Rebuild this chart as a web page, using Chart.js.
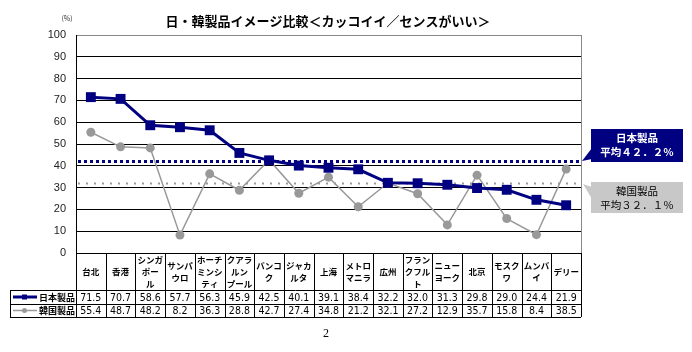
<!DOCTYPE html>
<html>
<head>
<meta charset="utf-8">
<script src="https://cdn.jsdelivr.net/npm/chart.js@4.4.1/dist/chart.umd.min.js"></script>
<style>
  html, body { margin: 0; padding: 0; background: #fff; }
  #wrap { width: 692px; height: 352px; }
</style>
</head>
<body>
<div id="wrap"><canvas id="imageChart" width="692" height="352"></canvas></div>
<script>
// Data
const categories = [
  ['台北'], ['香港'], ['シンガ', 'ポー', 'ル'], ['サンパ', 'ウロ'], ['ホーチ', 'ミンシ', 'ティ'],
  ['クアラ', 'ルン', 'プール'], ['バンコ', 'ク'], ['ジャカ', 'ルタ'], ['上海'], ['メトロ', 'マニラ'],
  ['広州'], ['フラン', 'クフル', 'ト'], ['ニュー', 'ヨーク'], ['北京'], ['モスク', 'ワ'], ['ムンバ', 'イ'], ['デリー']
];
const japanValues = [71.5, 70.7, 58.6, 57.7, 56.3, 45.9, 42.5, 40.1, 39.1, 38.4, 32.2, 32.0, 31.3, 29.8, 29.0, 24.4, 21.9];
const koreaValues = [55.4, 48.7, 48.2, 8.2, 36.3, 28.8, 42.7, 27.4, 34.8, 21.2, 32.1, 27.2, 12.9, 35.7, 15.8, 8.4, 38.5];
const seriesNames = ['日本製品', '韓国製品'];
const averages = [42.2, 32.1];
const averageLabels = [['日本製品', '平均４２．２％'], ['韓国製品', '平均３２．１％']];
const yTicks = [0, 10, 20, 30, 40, 50, 60, 70, 80, 90, 100];

const NAVY = '#000080';
const GRAY = '#999999';
const CJK = '"Noto Sans CJK JP", sans-serif';
const NUM = '"Liberation Sans Narrow", "DejaVu Sans Condensed", "Liberation Sans", sans-serif';

// dotted average lines, behind the series
const averagePlugin = {
  id: 'averages',
  beforeDatasetsDraw(chart) {
    const { ctx, chartArea: a, scales: { y } } = chart;
    const styles = [
      { color: NAVY, width: 3, dash: [3, 3] },
      { color: GRAY, width: 2, dash: [2, 6] }
    ];
    ctx.save();
    averages.forEach((v, i) => {
      const py = Math.round(y.getPixelForValue(v)) + 0.5;
      ctx.strokeStyle = styles[i].color;
      ctx.lineWidth = styles[i].width;
      ctx.setLineDash(styles[i].dash);
      ctx.beginPath();
      ctx.moveTo(a.left + 2, py);
      ctx.lineTo(a.right, py);
      ctx.stroke();
    });
    ctx.restore();
  }
};

// data table under the plot, callouts and extra texts
const tablePlugin = {
  id: 'dataTable',
  afterDraw(chart) {
    const { ctx, chartArea: a, scales: { x, y } } = chart;
    const n = chart.data.labels.length;
    const colW = (a.right - a.left) / n;
    const top = a.bottom;
    const row1 = 290, row2 = 304, bottom = 317;
    const legendLeft = 10;

    ctx.save();
    // right border of plot
    ctx.strokeStyle = '#888';
    ctx.lineWidth = 1;
    ctx.beginPath();
    ctx.moveTo(a.right + 0.5, a.top);
    ctx.lineTo(a.right + 0.5, a.bottom);
    ctx.stroke();

    // table grid
    ctx.strokeStyle = '#000';
    ctx.beginPath();
    [row1, row2, bottom].forEach(r => {
      ctx.moveTo(legendLeft, r + 0.5);
      ctx.lineTo(a.right, r + 0.5);
    });
    ctx.moveTo(legendLeft + 0.5, row1);
    ctx.lineTo(legendLeft + 0.5, bottom);
    for (let i = 0; i <= n; i++) {
      const px = Math.round(a.left + i * colW) + 0.5;
      ctx.moveTo(px, top);
      ctx.lineTo(px, bottom);
    }
    ctx.stroke();

    // category labels
    ctx.fillStyle = '#000';
    ctx.textAlign = 'center';
    ctx.textBaseline = 'middle';
    ctx.font = 'bold 8.5px ' + CJK;
    chart.data.labels.forEach((lines, i) => {
      const cx = x.getPixelForValue(i);
      const lh = 12;
      const y0 = (top + row1) / 2 - (lines.length - 1) * lh / 2;
      lines.forEach((t, k) => ctx.fillText(t, cx, y0 + k * lh));
    });

    // values
    ctx.font = '10.5px ' + NUM;
    chart.data.datasets.slice(0, 2).forEach((ds, d) => {
      const ry = d === 0 ? (row1 + row2) / 2 + 1 : (row2 + bottom) / 2 + 1;
      ds.data.forEach((v, i) => ctx.fillText(v.toFixed(1), x.getPixelForValue(i), ry));
    });

    // legend cells
    [[NAVY, 'rect', 3], [GRAY, 'circle', 1.5]].forEach(([c, shape, w], d) => {
      const ry = d === 0 ? (row1 + row2) / 2 : (row2 + bottom) / 2;
      ctx.strokeStyle = c;
      ctx.fillStyle = c;
      ctx.lineWidth = w;
      ctx.beginPath();
      ctx.moveTo(13, ry);
      ctx.lineTo(37, ry);
      ctx.stroke();
      if (shape === 'rect') ctx.fillRect(22, ry - 2.5, 5, 5);
      else { ctx.beginPath(); ctx.arc(24.5, ry, 2.5, 0, Math.PI * 2); ctx.fill(); }
      ctx.fillStyle = '#000';
      ctx.font = 'bold 9px ' + CJK;
      ctx.textAlign = 'left';
      ctx.fillText(seriesNames[d], 39, ry + 0.5);
    });

    // callouts
    const boxX = 591, boxW = 92;
    const calls = [
      { top: 129, h: 33, fill: NAVY, text: '#fff', bold: true },
      { top: 182, h: 31, fill: '#c8c8c8', text: '#000', bold: false }
    ];
    calls.forEach((c, i) => {
      const py = y.getPixelForValue(averages[i]);
      ctx.fillStyle = c.fill;
      ctx.fillRect(boxX, c.top, boxW, c.h);
      ctx.beginPath();
      if (i === 0) {
        ctx.moveTo(boxX + 1, c.top + c.h - 14);
        ctx.lineTo(boxX + 1, c.top + c.h - 3);
        ctx.lineTo(a.right + 1, py);
      } else {
        ctx.moveTo(boxX + 1, c.top + 5);
        ctx.lineTo(boxX + 1, c.top + 17);
        ctx.lineTo(a.right + 2, py + 1);
      }
      ctx.closePath();
      ctx.fill();
      ctx.fillStyle = c.text;
      ctx.textAlign = 'center';
      ctx.font = (c.bold ? 'bold ' : '') + '10.5px ' + CJK;
      averageLabels[i].forEach((t, k) => ctx.fillText(t, boxX + boxW / 2, c.top + 9 + k * 14));
    });

    // title, unit, page number
    ctx.fillStyle = '#000';
    ctx.textAlign = 'center';
    ctx.font = 'bold 13px ' + CJK;
    ctx.fillText('日・韓製品イメージ比較＜カッコイイ／センスがいい＞', 328, 21);
    ctx.font = '7px ' + CJK;
    ctx.fillStyle = '#333';
    ctx.fillText('(%)', 67, 18);
    ctx.font = '12px "Liberation Serif", serif';
    ctx.fillStyle = '#000';
    ctx.fillText('2', 326, 334);
    ctx.restore();
  }
};

new Chart(document.getElementById('imageChart'), {
  type: 'line',
  data: {
    labels: categories,
    datasets: [
      {
        label: seriesNames[0],
        data: japanValues,
        borderColor: NAVY,
        backgroundColor: NAVY,
        borderWidth: 3,
        pointStyle: 'rect',
        pointRadius: 7,
        pointBorderWidth: 0,
        tension: 0,
        order: 1
      },
      {
        label: seriesNames[1],
        data: koreaValues,
        borderColor: GRAY,
        backgroundColor: GRAY,
        borderWidth: 1.5,
        pointStyle: 'circle',
        pointRadius: 4.5,
        pointBorderWidth: 0,
        tension: 0,
        order: 2
      }
    ]
  },
  options: {
    responsive: false,
    animation: false,
    layout: { padding: { left: 0, right: 111, top: 35, bottom: 99 } },
    plugins: { legend: { display: false }, tooltip: { enabled: false } },
    scales: {
      x: {
        type: 'category',
        offset: true,
        display: false
      },
      y: {
        min: 0,
        max: 100,
        afterFit(scale) { scale.width = 76; },
        afterBuildTicks(scale) { scale.ticks = yTicks.map(v => ({ value: v })); },
        border: { display: true, color: '#000', width: 1 },
        grid: {
          drawTicks: false,
          color: c => (c.tick && c.tick.value === 100 ? '#888' : '#000'),
          lineWidth: 1
        },
        ticks: {
          padding: 10,
          color: '#222',
          font: { family: '"Liberation Sans", Arial, sans-serif', size: 11 }
        }
      }
    }
  },
  plugins: [averagePlugin, tablePlugin]
});
</script>
</body>
</html>
